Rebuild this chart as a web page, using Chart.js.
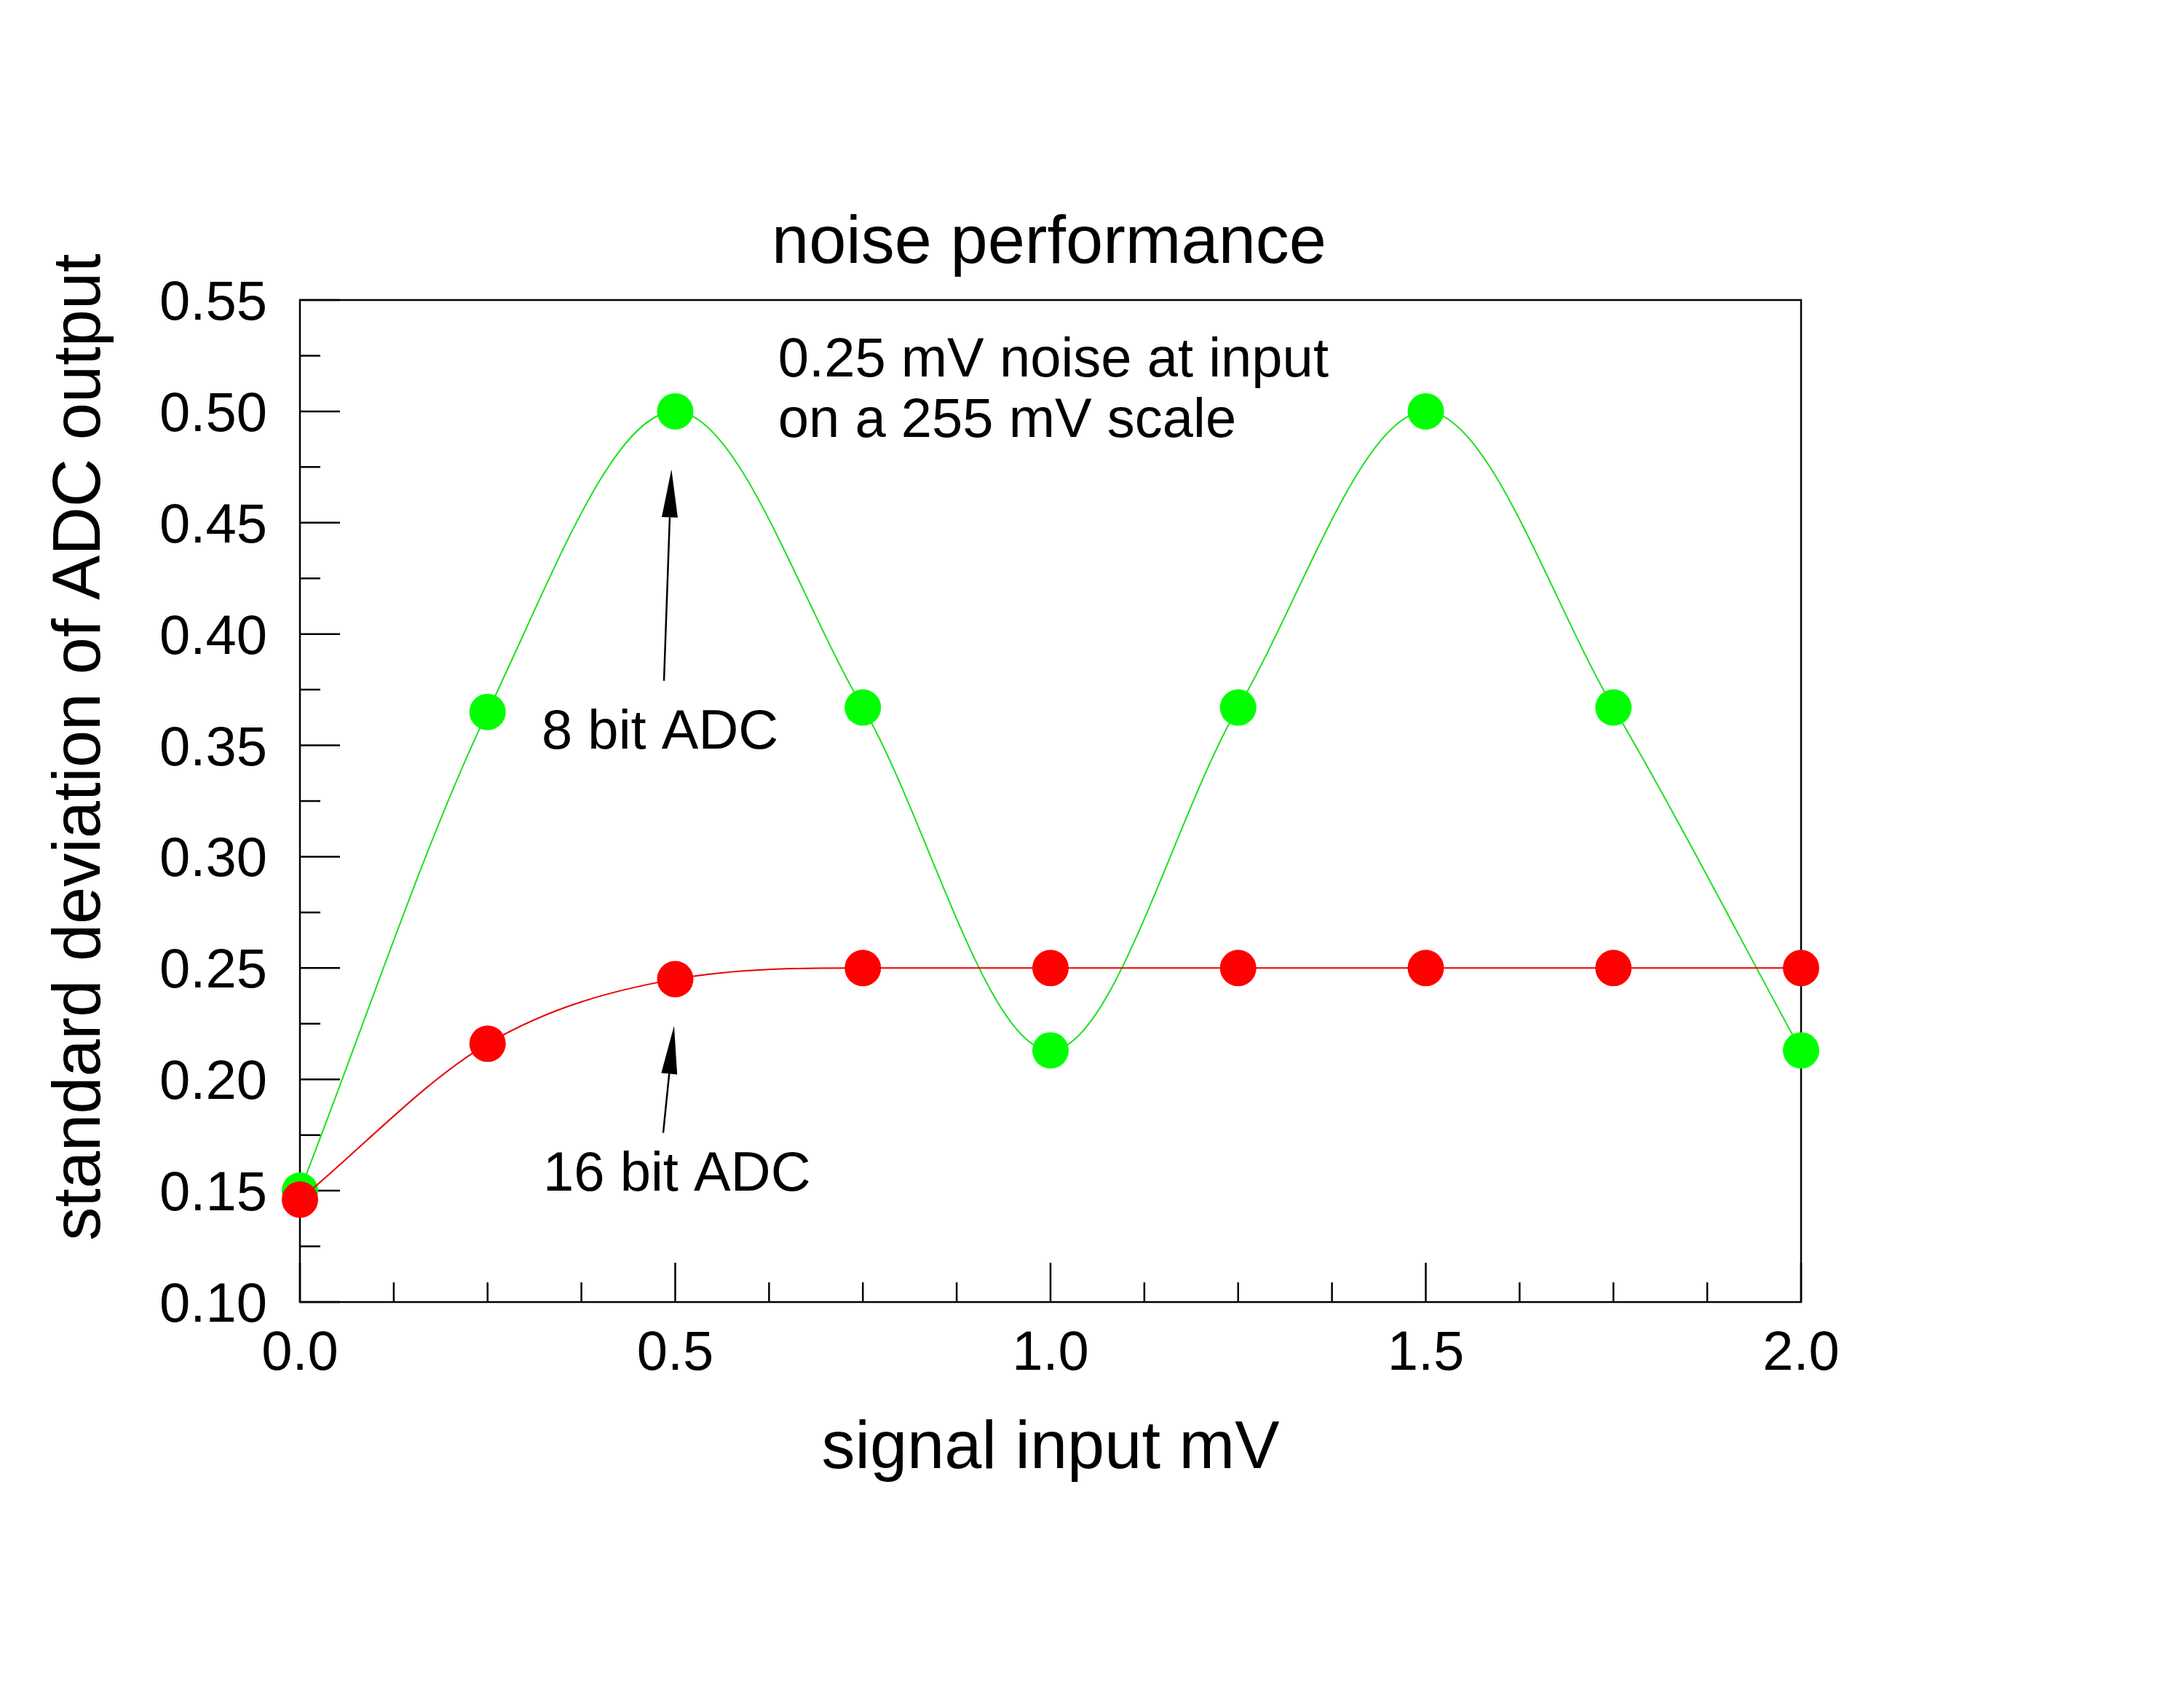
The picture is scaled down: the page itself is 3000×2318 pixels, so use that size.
<!DOCTYPE html>
<html>
<head>
<meta charset="utf-8">
<title>noise performance</title>
<script src="https://cdn.jsdelivr.net/npm/chart.js@4.4.1/dist/chart.umd.min.js"></script>
<style>
    html, body { margin: 0; padding: 0; background: #ffffff; }
    canvas { display: block; }
</style>
</head>
<body>
<canvas id="noiseChart" width="3000" height="2318"></canvas>
<script>
// Values
const signalInput = [0.0, 0.25, 0.5, 0.75, 1.0, 1.25, 1.5, 1.75, 2.0];
const adc8bit = [0.150, 0.365, 0.500, 0.367, 0.213, 0.367, 0.500, 0.367, 0.213];
const adc16bit = [0.146, 0.216, 0.245, 0.250, 0.250, 0.250, 0.250, 0.250, 0.250];

const yTicks = [0.10, 0.15, 0.20, 0.25, 0.30, 0.35, 0.40, 0.45, 0.50, 0.55];
const xTicks = [0.0, 0.5, 1.0, 1.5, 2.0];

const FONT = '"Liberation Sans", Arial, sans-serif';

// Text and arrows placed in data coordinates
const notes = [
    { text: '0.25 mV noise at input', x: 0.637, y: 0.5225, align: 'left' },
    { text: 'on a 255 mV scale', x: 0.637, y: 0.4955, align: 'left' },
    { text: '8 bit ADC', x: 0.322, y: 0.3555, align: 'left' },
    { text: '16 bit ADC', x: 0.324, y: 0.157, align: 'left' }
];
const arrows = [
    { from: [0.485, 0.379], to: [0.495, 0.474] },
    { from: [0.484, 0.176], to: [0.4985, 0.224] }
];

function toPoints(values) {
    return values.map((v, i) => ({ x: signalInput[i], y: v }));
}

// Frame and inward ticks, drawn under the data
const framePlugin = {
    id: 'frame',
    beforeDatasetsDraw(chart) {
        const { ctx, chartArea: a, scales } = chart;
        const xs = scales.x, ys = scales.y;
        ctx.save();
        ctx.strokeStyle = '#000';
        ctx.lineWidth = 2.5;
        ctx.strokeRect(a.left, a.top, a.right - a.left, a.bottom - a.top);

        ctx.beginPath();
        // y ticks: major every 0.05, minor halfway
        for (let i = 0; i < yTicks.length; i++) {
            const py = ys.getPixelForValue(yTicks[i]);
            ctx.moveTo(a.left, py);
            ctx.lineTo(a.left + 55, py);
            if (i < yTicks.length - 1) {
                const pm = ys.getPixelForValue((yTicks[i] + yTicks[i + 1]) / 2);
                ctx.moveTo(a.left, pm);
                ctx.lineTo(a.left + 28, pm);
            }
        }
        // x ticks: major every 0.5, minor every 0.125
        for (let i = 0; i < xTicks.length; i++) {
            const px = xs.getPixelForValue(xTicks[i]);
            ctx.moveTo(px, a.bottom);
            ctx.lineTo(px, a.bottom - 54);
            if (i < xTicks.length - 1) {
                const step = (xTicks[i + 1] - xTicks[i]) / 4;
                for (let k = 1; k < 4; k++) {
                    const pm = xs.getPixelForValue(xTicks[i] + step * k);
                    ctx.moveTo(pm, a.bottom);
                    ctx.lineTo(pm, a.bottom - 27);
                }
            }
        }
        ctx.stroke();
        ctx.restore();
    }
};

// Titles, notes and arrows
const textPlugin = {
    id: 'texts',
    afterDatasetsDraw(chart) {
        const { ctx, chartArea: a, scales } = chart;
        const xs = scales.x, ys = scales.y;
        ctx.save();
        ctx.fillStyle = '#000';
        ctx.strokeStyle = '#000';

        // main title
        ctx.font = '92px ' + FONT;
        ctx.textAlign = 'center';
        ctx.textBaseline = 'middle';
        ctx.fillText('noise performance', (a.left + a.right) / 2 - 2, 336);

        // y axis title
        ctx.save();
        ctx.translate(112, 1026);
        ctx.rotate(-Math.PI / 2);
        ctx.fillText('standard deviation of ADC output', 0, 0);
        ctx.restore();

        // notes
        ctx.font = '76px ' + FONT;
        notes.forEach(n => {
            ctx.textAlign = n.align;
            ctx.fillText(n.text, xs.getPixelForValue(n.x), ys.getPixelForValue(n.y));
        });

        // arrows
        ctx.lineWidth = 2.5;
        arrows.forEach(ar => {
            const x0 = xs.getPixelForValue(ar.from[0]), y0 = ys.getPixelForValue(ar.from[1]);
            const x1 = xs.getPixelForValue(ar.to[0]), y1 = ys.getPixelForValue(ar.to[1]);
            const ang = Math.atan2(y1 - y0, x1 - x0);
            const headLen = 66, headHalf = 11;
            const bx = x1 - headLen * Math.cos(ang), by = y1 - headLen * Math.sin(ang);
            ctx.beginPath();
            ctx.moveTo(x0, y0);
            ctx.lineTo(bx, by);
            ctx.stroke();
            ctx.beginPath();
            ctx.moveTo(x1, y1);
            ctx.lineTo(bx + headHalf * Math.sin(ang), by - headHalf * Math.cos(ang));
            ctx.lineTo(bx - headHalf * Math.sin(ang), by + headHalf * Math.cos(ang));
            ctx.closePath();
            ctx.fill();
        });
        ctx.restore();
    }
};

const chart = new Chart(document.getElementById('noiseChart').getContext('2d'), {
    type: 'line',
    data: {
        datasets: [
            {
                label: '16 bit ADC',
                data: toPoints(adc16bit),
                borderColor: '#e60000',
                backgroundColor: '#ff0000',
                pointBackgroundColor: '#ff0000',
                borderWidth: 2,
                pointRadius: 25,
                pointBorderWidth: 0,
                cubicInterpolationMode: 'monotone',
                clip: false,
                order: 0
            },
            {
                label: '8 bit ADC',
                data: toPoints(adc8bit),
                borderColor: '#1ee01e',
                backgroundColor: '#00ff00',
                pointBackgroundColor: '#00ff00',
                borderWidth: 2,
                pointRadius: 25,
                pointBorderWidth: 0,
                cubicInterpolationMode: 'monotone',
                clip: false,
                order: 1
            }
        ]
    },
    options: {
        responsive: false,
        devicePixelRatio: 1,
        animation: false,
        layout: { padding: { left: 0, top: 412, right: 526, bottom: 0 } },
        plugins: {
            legend: { display: false },
            tooltip: { enabled: false }
        },
        scales: {
            x: {
                type: 'linear',
                min: 0,
                max: 2,
                afterFit(scale) { scale.height = 530; },
                afterBuildTicks(scale) { scale.ticks = xTicks.map(v => ({ value: v })); },
                grid: { display: false, drawTicks: false },
                border: { display: false },
                ticks: {
                    padding: 26,
                    color: '#000',
                    font: { family: FONT, size: 76 },
                    callback: v => v.toFixed(1)
                },
                title: {
                    display: true,
                    text: 'signal input mV',
                    color: '#000',
                    font: { family: FONT, size: 92 },
                    padding: { top: 0, bottom: 272 }
                }
            },
            y: {
                type: 'linear',
                min: 0.10,
                max: 0.55,
                afterFit(scale) { scale.width = 412; },
                afterBuildTicks(scale) { scale.ticks = yTicks.map(v => ({ value: v })); },
                grid: { display: false, drawTicks: false },
                border: { display: false },
                ticks: {
                    padding: 45,
                    labelOffset: 6,
                    color: '#000',
                    font: { family: FONT, size: 76 },
                    callback: v => v.toFixed(2)
                }
            }
        }
    },
    plugins: [framePlugin, textPlugin]
});
</script>
</body>
</html>
